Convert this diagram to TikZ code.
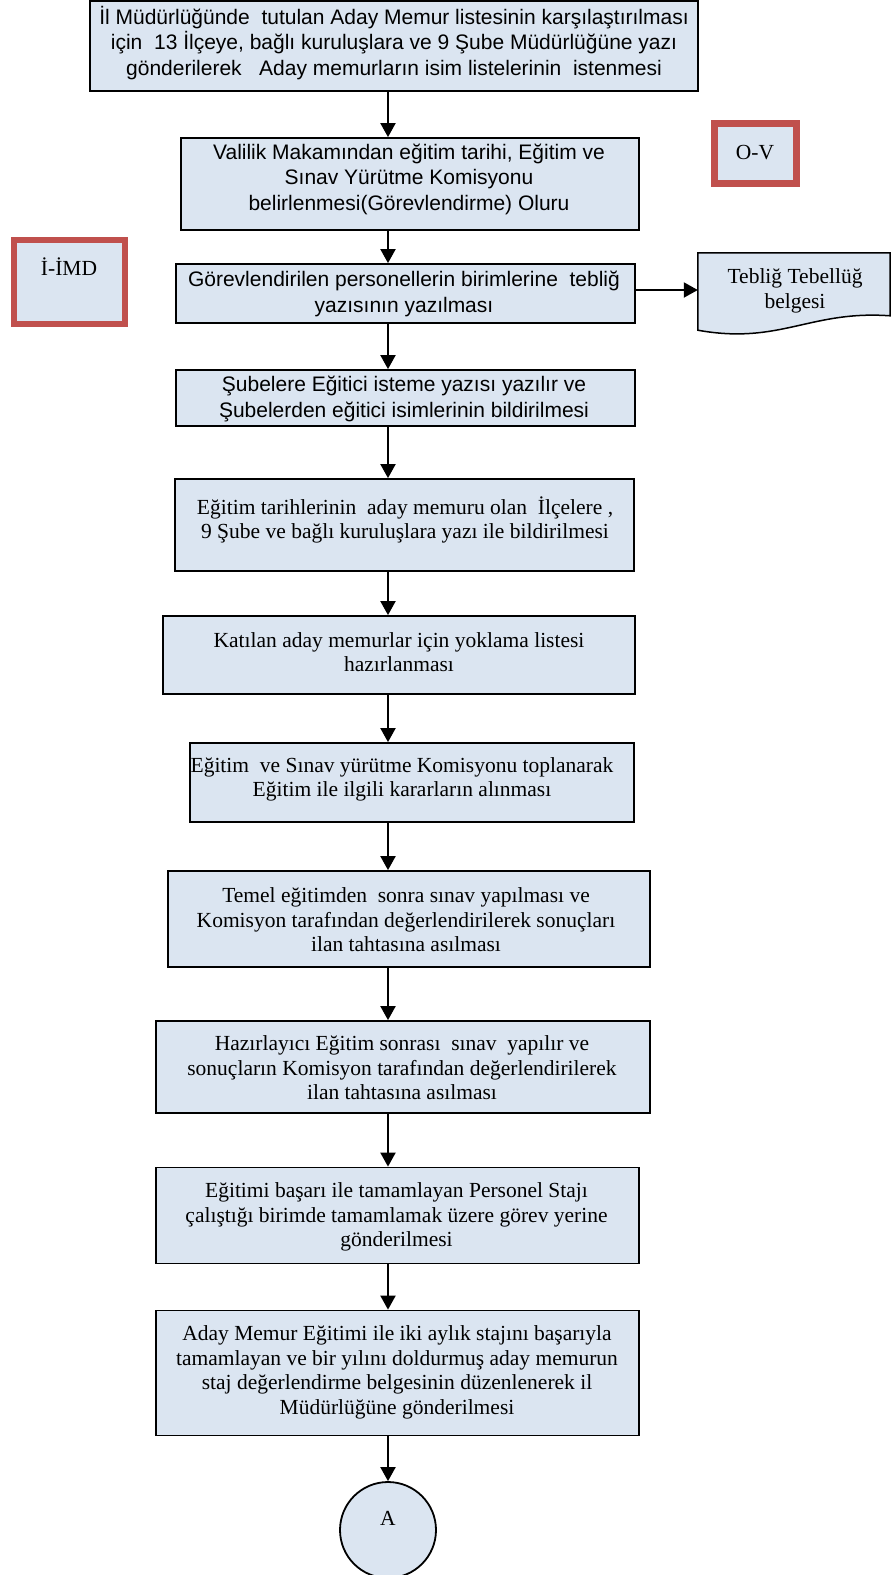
\documentclass[tikz,border=0pt]{standalone}
\usepackage{fontspec}
\setmainfont{Liberation Serif}
\newfontfamily\arialf{Liberation Sans}
\usetikzlibrary{arrows.meta}
\definecolor{boxfill}{HTML}{DBE5F1}
\definecolor{redb}{HTML}{C0504D}
\tikzset{
  box/.style={draw=black, line width=1.8pt, fill=boxfill, inner sep=0pt},
  txt/.style={align=center, inner sep=0pt, font=\fontsize{21.5}{24.5}\selectfont},
  atxt/.style={align=center, inner sep=0pt, font=\arialf\fontsize{21}{25.5}\selectfont},
  arr/.style={line width=2pt, -{Triangle[length=14pt,width=15pt]}},
  tag/.style={draw=redb, line width=6.5pt, fill=boxfill, inner sep=0pt}
}
\begin{document}
\begin{tikzpicture}[x=1pt,y=-1pt]
\useasboundingbox (0,0) rectangle (891,1575);
\coordinate (ax) at (388,0);
% boxes
\node[box, minimum width=608, minimum height=90] (b1) at (394,46) {};
\node[box, minimum width=458, minimum height=92] (b2) at (410,184) {};
\node[box, minimum width=459, minimum height=59] (b3) at (405.5,293.5) {};
\node[box, minimum width=459, minimum height=56] (b4) at (405.5,398) {};
\node[box, minimum width=459, minimum height=92] (b5) at (404.5,525) {};
\node[box, minimum width=472, minimum height=78] (b6) at (399,655) {};
\node[box, minimum width=444, minimum height=79] (b7) at (412,782.5) {};
\node[box, minimum width=482, minimum height=96] (b8) at (409,919) {};
\node[box, minimum width=494, minimum height=92] (b9) at (403,1067) {};
\node[box, minimum width=483, minimum height=96] (b10) at (397.5,1215.5) {};
\node[box, minimum width=483, minimum height=125] (b11) at (397.5,1373) {};
% texts
\node[atxt] (t1) at (394,43) {İl Müdürlüğünde\ \ tutulan Aday Memur listesinin karşılaştırılması\\için\ \ 13 İlçeye, bağlı kuruluşlara ve 9 Şube Müdürlüğüne yazı\\gönderilerek\ \ \ Aday memurların isim listelerinin\ \ istenmesi};
\node[atxt] (t2) at (409,179) {Valilik Makamından eğitim tarihi, Eğitim ve\\Sınav Yürütme Komisyonu\\belirlenmesi(Görevlendirme) Oluru};
\node[atxt] (t3) at (404,294) {Görevlendirilen personellerin birimlerine\ \ tebliğ\\yazısının yazılması};
\node[atxt] (t4) at (404,399) {Şubelere Eğitici isteme yazısı yazılır ve\\Şubelerden eğitici isimlerinin bildirilmesi};
\node[txt] (t5) at (405,520) {Eğitim tarihlerinin\ \ aday memuru olan\ \ İlçelere ,\\9 Şube ve bağlı kuruluşlara yazı ile bildirilmesi};
\node[txt] (t6) at (399,652) {Katılan aday memurlar için yoklama listesi\\hazırlanması};
\node[txt] (t7) at (402,779.5) {Eğitim\ \ ve Sınav yürütme Komisyonu toplanarak\\Eğitim ile ilgili kararların alınması};
\node[txt] (t8) at (406,920) {Temel eğitimden\ \ sonra sınav yapılması ve\\Komisyon tarafından değerlendirilerek sonuçları\\ilan tahtasına asılması};
\node[txt] (t9) at (402,1068) {Hazırlayıcı Eğitim sonrası\ \ sınav\ \ yapılır ve\\sonuçların Komisyon tarafından değerlendirilerek\\ilan tahtasına asılması};
\node[txt] (t10) at (396.5,1217) {Eğitimi başarı ile tamamlayan Personel Stajı\\çalıştığı birimde tamamlamak üzere görev yerine\\gönderilmesi};
\node[txt] (t11) at (397,1372.5) {Aday Memur Eğitimi ile iki aylık stajını başarıyla\\tamamlayan ve bir yılını doldurmuş aday memurun\\staj değerlendirme belgesinin düzenlenerek il\\Müdürlüğüne gönderilmesi};
% tags
\node[tag, minimum width=82, minimum height=60] (ov) at (755.5,153.5) {};
\node[txt] (ovt) at (755,153) {O-V};
\node[tag, minimum width=111, minimum height=84] (imd) at (69.5,282) {};
\node[txt] (imdt) at (69,267) {İ-İMD};
% document shape
\node[minimum width=192, minimum height=77, inner sep=0pt] (doc) at (794,291.5) {};
\draw[line width=1.5pt, fill=boxfill] (doc.north west) -- (doc.north east) -- ([yshift=-63pt]doc.north east)
  .. controls (810,310) and (780,345) .. (doc.south west) -- cycle;
\node[txt] (doct) at (795,291) {Tebliğ Tebellüğ\\belgesi};
% circle
\node[circle, draw=black, line width=1.8pt, fill=boxfill, minimum size=96, inner sep=0pt] (a) at (388,1530) {};
\node[txt] (at) at (388,1518) {A};
% arrows
\draw[arr] (b1.south -| ax) -- (b2.north -| ax);
\draw[arr] (b2.south -| ax) -- (b3.north -| ax);
\draw[arr] (b3.south -| ax) -- (b4.north -| ax);
\draw[arr] (b4.south -| ax) -- (b5.north -| ax);
\draw[arr] (b5.south -| ax) -- (b6.north -| ax);
\draw[arr] (b6.south -| ax) -- (b7.north -| ax);
\draw[arr] (b7.south -| ax) -- (b8.north -| ax);
\draw[arr] (b8.south -| ax) -- (b9.north -| ax);
\draw[arr] (b9.south -| ax) -- (b10.north -| ax);
\draw[arr] (b10.south -| ax) -- (b11.north -| ax);
\draw[arr] (b11.south -| ax) -- (a.north);
\draw[arr] ([yshift=3.5pt]b3.east) -- ([yshift=3.5pt]b3.east -| doc.west);
\end{tikzpicture}
\end{document}
